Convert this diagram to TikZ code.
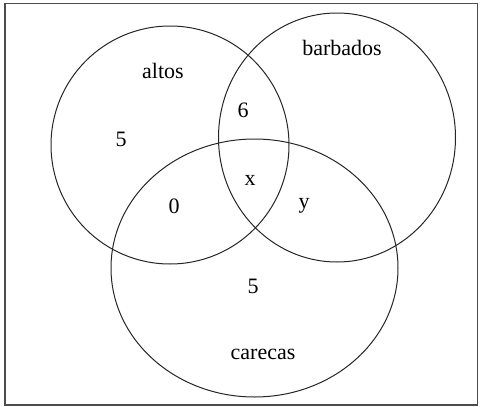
\documentclass[tikz,border=0pt]{standalone}
\usepackage{fontspec}
\setmainfont{Liberation Serif}
\begin{document}
\begin{tikzpicture}[x=1pt,y=-1pt]
        \tikzstyle{set}=[draw=black!85,line width=1pt]
        \tikzstyle{frame}=[draw=black!70,line width=1.6pt]
        \tikzstyle{tag}=[anchor=base,inner sep=0pt,font=\fontsize{22}{25}\selectfont]
       \useasboundingbox (0,0) rectangle (480,407);
       \begin{scope}
         \draw [frame] (5,3.5) rectangle (477.5,405);
         \draw [set] (170,145) ellipse [x radius=119,y radius=119];
         \draw [set] (337,137.5) ellipse [x radius=118.5,y radius=124.5];
         \draw [set] (254.5,268) ellipse [x radius=143.5,y radius=129];
         \node [tag] (altos) at (163,78) {altos};
         \node [tag] (barbados) at (342,55) {barbados};
         \node [tag] (carecas) at (263,359) {carecas};
         \node [tag] (onlyA) at (121,146) {5};
         \node [tag] (AB) at (243,117) {6};
         \node [tag] (ABC) at (250,185) {x};
         \node [tag] (AC) at (174,213) {0};
         \node [tag] (BC) at (304,208) {y};
         \node [tag] (onlyC) at (253,293) {5};
        \end{scope}
      \end{tikzpicture}
\end{document}
